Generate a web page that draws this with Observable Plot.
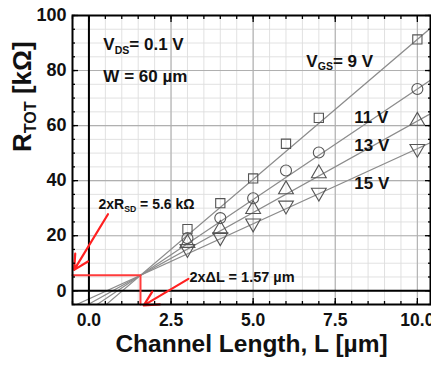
<!DOCTYPE html>
<html><head><meta charset="utf-8">
<script src="https://cdn.jsdelivr.net/npm/d3@7"></script>
<script src="https://cdn.jsdelivr.net/npm/@observablehq/plot@0.6"></script>
<style>
html,body{margin:0;padding:0;background:#fff;}
</style>
</head><body><div id="chart"></div>
<script>
// ---- data ----
const lengths = [3, 4, 5, 6, 7, 10];
const vgsLabels = ["9 V", "11 V", "13 V", "15 V"];
const r9  = [22.4, 31.8, 40.8, 53.4, 62.8, 91.3];
const r11 = [19.1, 26.4, 33.6, 43.7, 50.2, 73.3];
const r13 = [17.3, 22.4, 29.6, 36.8, 42.6, 61.7];
const r15 = [15.2, 19.5, 24.5, 31.0, 35.7, 51.6];
const symbols = ["square", "circle", "triangle", "triangle"];
const rotations = [0, 0, 0, 180];
// linear fits: R = intercept + slope*L
const fitSlopes = [10.17, 8.03, 6.65, 5.46];
const fitIntercepts = [-10.37, -7.0, -4.84, -2.97];
// extraction results
const twoRSD = 5.6;   // kOhm
const twoDL = 1.57;   // um
// axes
const xDomain = [-0.5, 10.4];
const yDomain = [-5, 100];
const xMajor = [0, 2.5, 5, 7.5, 10];
const xMinor = d3.range(-0.5, 10.01, 0.5);
const yMajor = [0, 20, 40, 60, 80, 100];
const yMinor = d3.range(-5, 100.01, 5);
// annotation texts
const labels = [
  {x: 0.44, y: 89.5, t: "V{DS}= 0.1 V", s: 17},
  {x: 0.44, y: 78, t: "W = 60 µm", s: 17},
  {x: 6.62, y: 83.4, t: "V{GS}= 9 V", s: 17},
  {x: 8.08, y: 62.8, t: "11 V", s: 17},
  {x: 8.08, y: 52.7, t: "13 V", s: 17},
  {x: 8.08, y: 39, t: "15 V", s: 17},
  {x: 0.29, y: 31.4, t: "2xR{SD} = 5.6 kΩ", s: 14},
  {x: 3.06, y: 5.0, t: "2xΔL = 1.57 µm", s: 14.5}
];
const arrows = [
  {x1: 0.58, y1: 27.8, x2: -0.45, y2: 7.6},
  {x1: 3.03, y1: 4.3, x2: 1.67, y2: -5.3}
];

// ---- build ----
const series = [r9, r11, r13, r15];
const fitLines = fitSlopes.flatMap((s, i) =>
  xDomain.map(x => ({x, y: fitIntercepts[i] + s * x, k: vgsLabels[i]})));
const redPath = [
  {x: xDomain[0], y: twoRSD},
  {x: twoDL, y: twoRSD},
  {x: twoDL, y: yDomain[0]}
];
const dotMarks = series.map((vals, i) => Plot.dot(
  lengths.map((L, j) => ({L, R: vals[j]})),
  {x: "L", y: "R", symbol: () => symbols[i], rotate: rotations[i], r: i === 0 ? 5.2 : 5.5,
   stroke: "#555", strokeWidth: 1.1, fill: "none"}));

const tickOpts = (anchor, size, ticks) => ({anchor, ticks, tickSize: size, tickFormat: () => "", label: null, stroke: "#000", strokeWidth: 1.3});

const plot = Plot.plot({
  width: 431, height: 367,
  marginLeft: 72, marginRight: 1, marginTop: 15, marginBottom: 63,
  style: {fontFamily: "'Liberation Sans', Arial, sans-serif", fontWeight: "bold", background: "#fff"},
  x: {domain: xDomain, axis: null},
  y: {domain: yDomain, axis: null},
  marks: [
    Plot.ruleX(xMinor, {stroke: "#dedede", strokeWidth: 0.9}),
    Plot.ruleY(yMinor, {stroke: "#dedede", strokeWidth: 0.9}),
    Plot.ruleX(xMajor, {stroke: "#b0b0b0", strokeWidth: 1.1}),
    Plot.ruleY(yMajor, {stroke: "#b0b0b0", strokeWidth: 1.1}),
    Plot.line(fitLines, {x: "x", y: "y", z: "k", stroke: "#8c8c8c", strokeWidth: 1.2, clip: true}),
    Plot.ruleX([0], {stroke: "#000", strokeWidth: 2}),
    Plot.ruleY([0], {stroke: "#000", strokeWidth: 2}),
    Plot.line(redPath, {x: "x", y: "y", stroke: "#ff3b3b", strokeWidth: 2}),
    ...dotMarks,
    Plot.arrow(arrows, {x1: "x1", y1: "y1", x2: "x2", y2: "y2", stroke: "#ff2020", strokeWidth: 2.2, headLength: 11, headAngle: 55}),
    Plot.text(labels, {x: "x", y: "y", text: "t", fontSize: "s", textAnchor: "start", fill: "#111", fontWeight: "bold"}),
    Plot.axisX(tickOpts("bottom", -6, xMajor)),
    Plot.axisX(tickOpts("bottom", -3, xMinor)),
    Plot.axisX(tickOpts("top", -6, xMajor)),
    Plot.axisX(tickOpts("top", -3, xMinor)),
    Plot.axisY(tickOpts("left", -6, yMajor)),
    Plot.axisY(tickOpts("left", -3, yMinor)),
    Plot.axisY(tickOpts("right", -6, yMajor)),
    Plot.axisY(tickOpts("right", -3, yMinor)),
    Plot.axisX({anchor: "bottom", ticks: xMajor, tickSize: 0, tickPadding: 9, tickFormat: d3.format(".1f"), fontSize: 17.5, fontWeight: "bold", label: null, fill: "#111"}),
    Plot.axisY({anchor: "left", ticks: yMajor, tickSize: 0, tickPadding: 6, fontSize: 18, fontWeight: "bold", label: null, fill: "#111"}),
    Plot.text(["Channel Length, L [µm]"], {frameAnchor: "bottom", dy: 47, fontSize: 24.5, fontWeight: "bold", fill: "#111"}),
    Plot.text(["R{TOT} [kΩ]"], {frameAnchor: "left", dx: -50, dy: -8, rotate: -90, fontSize: 26, fontWeight: "bold", fill: "#111"}),
    Plot.frame({stroke: "#000", strokeWidth: 2})
  ]
});

// convert "{..}" to subscripts
d3.select(plot).selectAll("text").each(function() {
  const el = this;
  const txt = el.textContent;
  if (!/\{[^}]+\}/.test(txt)) return;
  el.textContent = "";
  const parts = txt.split(/(\{[^}]+\})/).filter(p => p.length);
  let shifted = false;
  for (const p of parts) {
    const ts = document.createElementNS("http://www.w3.org/2000/svg", "tspan");
    if (p.startsWith("{")) {
      ts.textContent = p.slice(1, -1);
      ts.setAttribute("font-size", "0.62em");
      ts.setAttribute("dy", "0.35em");
      shifted = true;
    } else {
      ts.textContent = p;
      if (shifted) { ts.setAttribute("dy", "-0.22em"); shifted = false; }
    }
    el.appendChild(ts);
  }
});

document.getElementById("chart").appendChild(plot);
</script>
</body></html>
